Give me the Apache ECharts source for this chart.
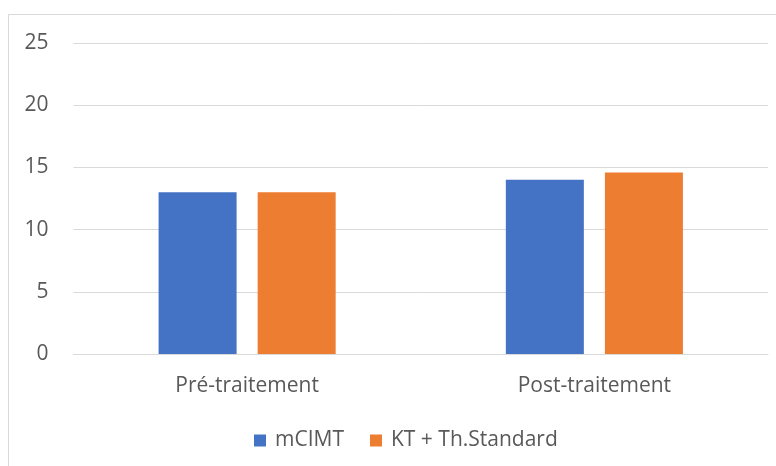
<!DOCTYPE html>
<html>
<head>
<meta charset="utf-8">
<script src="https://cdn.jsdelivr.net/npm/echarts@6/dist/echarts.min.js"></script>
<style>html,body{margin:0;padding:0;background:#fff}#c{width:776px;height:466px}</style>
</head>
<body>
<div id="c"></div>
<script>
const categories = ['Pré-traitement', 'Post-traitement'];
const seriesNames = ['mCIMT', 'KT + Th.Standard'];
const mcimt = [13, 14];
const ktStandard = [13, 14.6];
const yTicks = {min: 0, max: 25, interval: 5};

const chart = echarts.init(document.getElementById('c'), null, {renderer: 'canvas'});
const font = 'Open Sans, sans-serif';
chart.setOption({
  animation: false,
  backgroundColor: '#fff',
  graphic: [{
    type: 'rect', silent: true,
    shape: {x: 8.5, y: 14.5, width: 900, height: 600},
    style: {fill: 'none', stroke: '#d9d9d9', lineWidth: 1}
  }],
  grid: {left: 73.5, right: 8, top: 43, bottom: 112, containLabel: false},
  legend: {
    data: seriesNames, bottom: 10, left: 249,
    itemWidth: 12, itemHeight: 12, itemGap: 26,
    icon: 'rect',
    textStyle: {color: '#595959', fontSize: 21, fontFamily: font, padding: [0, 0, 0, 4]}
  },
  xAxis: {
    type: 'category', data: categories,
    axisLine: {lineStyle: {color: '#d9d9d9'}},
    axisTick: {show: false},
    axisLabel: {color: '#595959', fontSize: 21, fontFamily: font, margin: 22}
  },
  yAxis: {
    type: 'value', min: yTicks.min, max: yTicks.max, interval: yTicks.interval,
    axisLine: {show: false}, axisTick: {show: false},
    splitLine: {lineStyle: {color: '#d9d9d9'}},
    axisLabel: {color: '#595959', fontSize: 21, fontFamily: font, margin: 25}
  },
  series: [
    {name: seriesNames[0], type: 'bar', data: mcimt, barWidth: 78, barGap: '27%', itemStyle: {color: '#4472C4'}},
    {name: seriesNames[1], type: 'bar', data: ktStandard, barWidth: 78, itemStyle: {color: '#ED7D31'}}
  ]
});
</script>
</body>
</html>
